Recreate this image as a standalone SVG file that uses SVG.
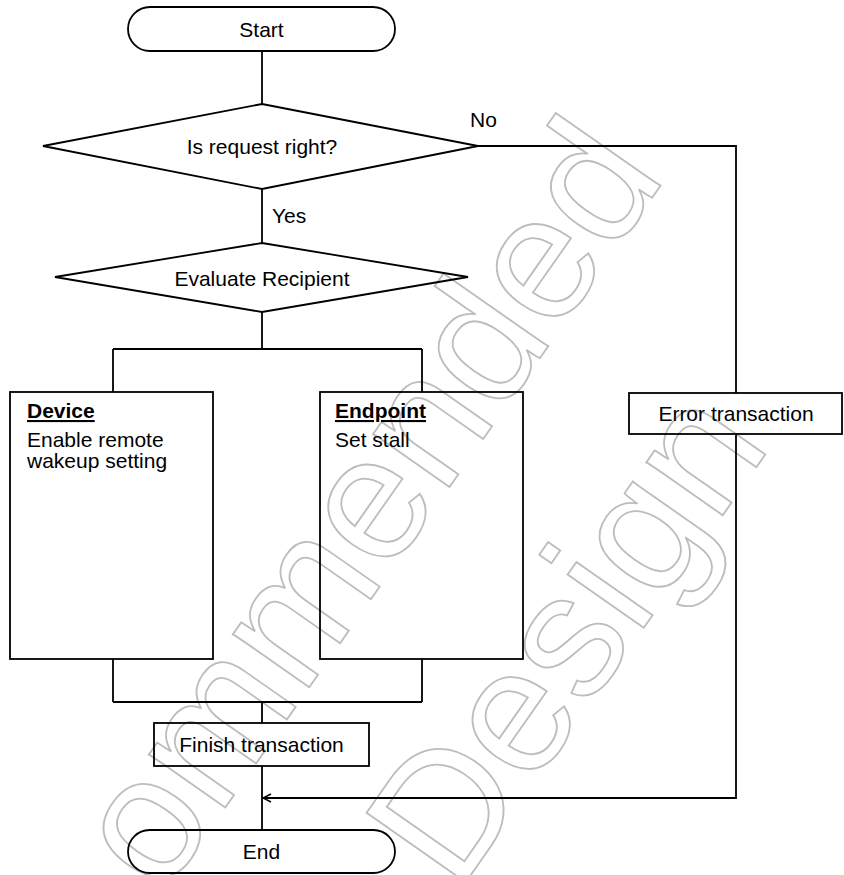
<svg xmlns="http://www.w3.org/2000/svg" width="844" height="875" viewBox="0 0 844 875">
<defs>
<style>
.s{fill:none;stroke:#000;stroke-width:1.8}
.t{font-family:"Liberation Sans",Arial,sans-serif;font-size:21px;fill:#000}
.m{text-anchor:middle}
.b{font-weight:bold;text-decoration:underline}
.wm{font-family:"Liberation Sans",Arial,sans-serif;font-size:176px;fill:none;stroke:#bdbdbd;stroke-width:1.8}
.c{fill:none;stroke:#000;stroke-width:1.8}
</style>
<marker id="arr" markerUnits="userSpaceOnUse" viewBox="-10 -5 11 10" refX="0" refY="0" markerWidth="11" markerHeight="10" orient="auto">
<path d="M-8,-4 L0,0 L-8,4" fill="none" stroke="#000" stroke-width="1.5"/>
</marker>
</defs>
<rect width="844" height="875" fill="#fff"/>
<g id="watermark" transform="translate(648,622) rotate(-55)">
<text class="wm" x="376" y="-240" text-anchor="end">ommended</text>
<text class="wm" x="-332" y="0">Design</text>
</g>
<g id="connectors">
<path class="c" d="M262,51 V104"/>
<path class="c" d="M262,189 V243"/>
<path class="c" d="M262,312 V349 M113,349 H422 M113,349 V392 M422,349 V392"/>
<path class="c" d="M478,146 H736 V393"/>
<path class="c" d="M113,659 V702 M422,659 V702 M113,702 H422 M262,702 V723"/>
<path class="c" d="M262,766 V830"/>
<path class="c" d="M736,434 V798 H263" marker-end="url(#arr)"/>
<text class="t" x="470" y="127">No</text>
<text class="t" x="272" y="223">Yes</text>
</g>
<g id="start">
<rect class="s" x="128" y="7" width="267" height="44" rx="22"/>
<text class="t m" x="261.5" y="37">Start</text>
</g>
<g id="decision-request">
<polygon class="s" points="262,104 478,146 262,189 43,146"/>
<text class="t m" x="262" y="154">Is request right?</text>
</g>
<g id="decision-recipient">
<polygon class="s" points="262,243 468,277 262,312 55,277"/>
<text class="t m" x="262" y="286">Evaluate Recipient</text>
</g>
<g id="device">
<rect class="s" x="10" y="392" width="203" height="267"/>
<text class="t b" x="27" y="418">Device</text>
<text class="t" x="27" y="447">Enable remote</text>
<text class="t" x="27" y="468">wakeup setting</text>
</g>
<g id="endpoint">
<rect class="s" x="320" y="392" width="203" height="267"/>
<text class="t b" x="335" y="418">Endpoint</text>
<text class="t" x="335" y="447">Set stall</text>
</g>
<g id="error">
<rect class="s" x="629" y="393" width="213" height="41"/>
<text class="t m" x="736" y="421">Error transaction</text>
</g>
<g id="finish">
<rect class="s" x="154" y="723" width="215" height="43"/>
<text class="t m" x="261.5" y="752">Finish transaction</text>
</g>
<g id="end">
<rect class="s" x="128" y="830" width="267" height="43" rx="21.5"/>
<text class="t m" x="261.5" y="859">End</text>
</g>
</svg>
